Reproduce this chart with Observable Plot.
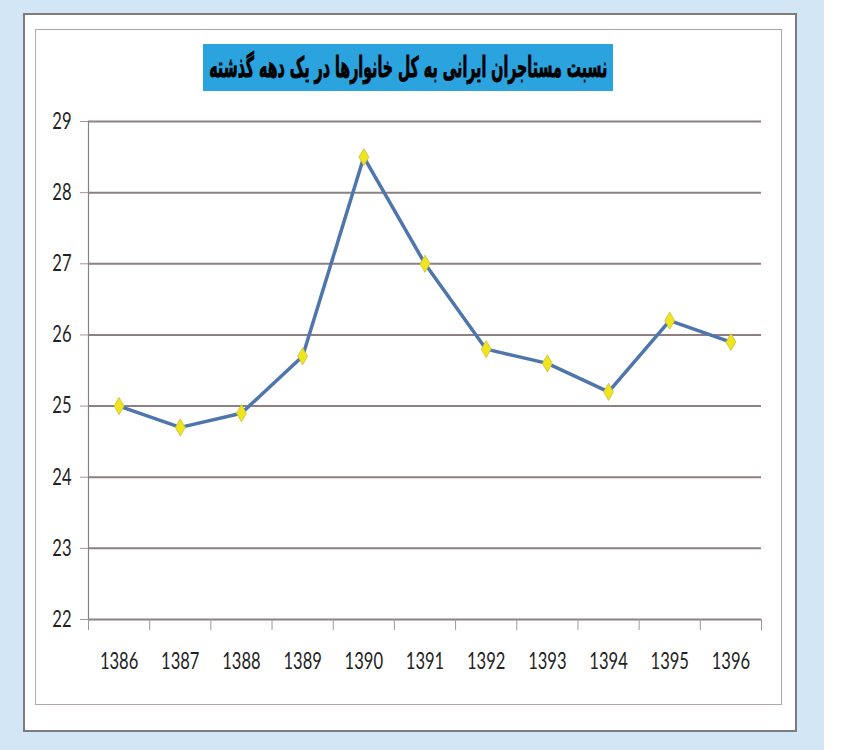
<!DOCTYPE html>
<html>
<head>
<meta charset="utf-8">
<script src="https://cdn.jsdelivr.net/npm/d3@7"></script>
<script src="https://cdn.jsdelivr.net/npm/@observablehq/plot@0.6"></script>
<style>
  html, body { margin: 0; padding: 0; background: #ffffff; }
  #page { position: relative; width: 856px; height: 750px; overflow: hidden; }
  #blue { position: absolute; left: 0; top: 0; width: 824px; height: 750px; background: #d3e6f6; }
  #panel { position: absolute; left: 23px; top: 13px; width: 774px; height: 719px; box-sizing: border-box;
           border: 2px solid #7c7c7c; background: #ffffff; }
  #inner { position: absolute; left: 35px; top: 29px; width: 747px; height: 676px; box-sizing: border-box;
           border: 1.5px solid #b2a7a5; }
  #titlebox { position: absolute; left: 203px; top: 44px; width: 410px; height: 47px; background: #2aa3df;
              display: flex; align-items: center; justify-content: center; overflow: visible; }
  #titlebox span { display: inline-block; white-space: nowrap; font-family: "DejaVu Sans", sans-serif;
                   font-weight: bold; font-size: 22px; color: #000; transform-origin: center center;
                   -webkit-text-stroke: 0.7px #000; }
  #chart { position: absolute; left: 0; top: 0; }
</style>
</head>
<body>
<div id="page">
  <div id="blue"></div>
  <div id="panel"></div>
  <div id="inner"></div>
  <div id="titlebox"><span id="title" dir="rtl"></span></div>
  <div id="chart"></div>
</div>
<script>
const titleText = "نسبت مستاجران ایرانی به کل خانوارها در یک دهه گذشته";
const years = [1386, 1387, 1388, 1389, 1390, 1391, 1392, 1393, 1394, 1395, 1396];
const values = [25.0, 24.7, 24.9, 25.7, 28.5, 27.0, 25.8, 25.6, 25.2, 26.2, 25.9];
const yTicks = [22, 23, 24, 25, 26, 27, 28, 29];

const data = years.map((year, i) => ({year, value: values[i]}));
const boundaries = years.map(y => y - 0.5).concat([years[years.length - 1] + 0.5]);

const t = document.getElementById("title");
t.textContent = titleText;
const w = t.getBoundingClientRect().width;
t.style.transform = `scale(${398 / w}, 1.3)`;

const chart = Plot.plot({
  width: 856,
  height: 750,
  marginLeft: 88,
  marginRight: 95,
  marginTop: 121,
  marginBottom: 131,
  style: {background: "transparent", fontFamily: "Lato, 'Open Sans', sans-serif", fontSize: "23px", color: "#222"},
  x: {domain: [boundaries[0], boundaries[boundaries.length - 1]], label: null},
  y: {domain: [yTicks[0], yTicks[yTicks.length - 1]], label: null},
  marks: [
    Plot.gridY(yTicks, {stroke: "#8e8080", strokeOpacity: 1, strokeWidth: 2}),
    Plot.ruleX([boundaries[0]], {stroke: "#8a8080", strokeWidth: 1.2}),
    Plot.axisY(yTicks, {tickSize: 8, tickPadding: 9, stroke: "#a09696", tickFormat: d => String(d), label: null}),
    Plot.axisX(boundaries, {tickSize: 11, stroke: "#a09696", tickFormat: () => "", label: null}),
    Plot.axisX(years, {tickSize: 0, tickPadding: 33, tickFormat: d => String(d), label: null}),
    Plot.line(data, {x: "year", y: "value", stroke: "#4f75ad", strokeWidth: 3.5}),
    Plot.dot(data, {x: "year", y: "value", symbol: "diamond", r: 5.2, fill: "#f0e41e", stroke: "#c9bf3a", strokeWidth: 0.8})
  ]
});
document.getElementById("chart").appendChild(chart);

d3.select(chart).selectAll("g[aria-label='x-axis tick label'] text, g[aria-label='y-axis tick label'] text")
  .attr("transform", function() { return (this.getAttribute("transform") || "") + " scale(0.72,1)"; });
</script>
</body>
</html>
